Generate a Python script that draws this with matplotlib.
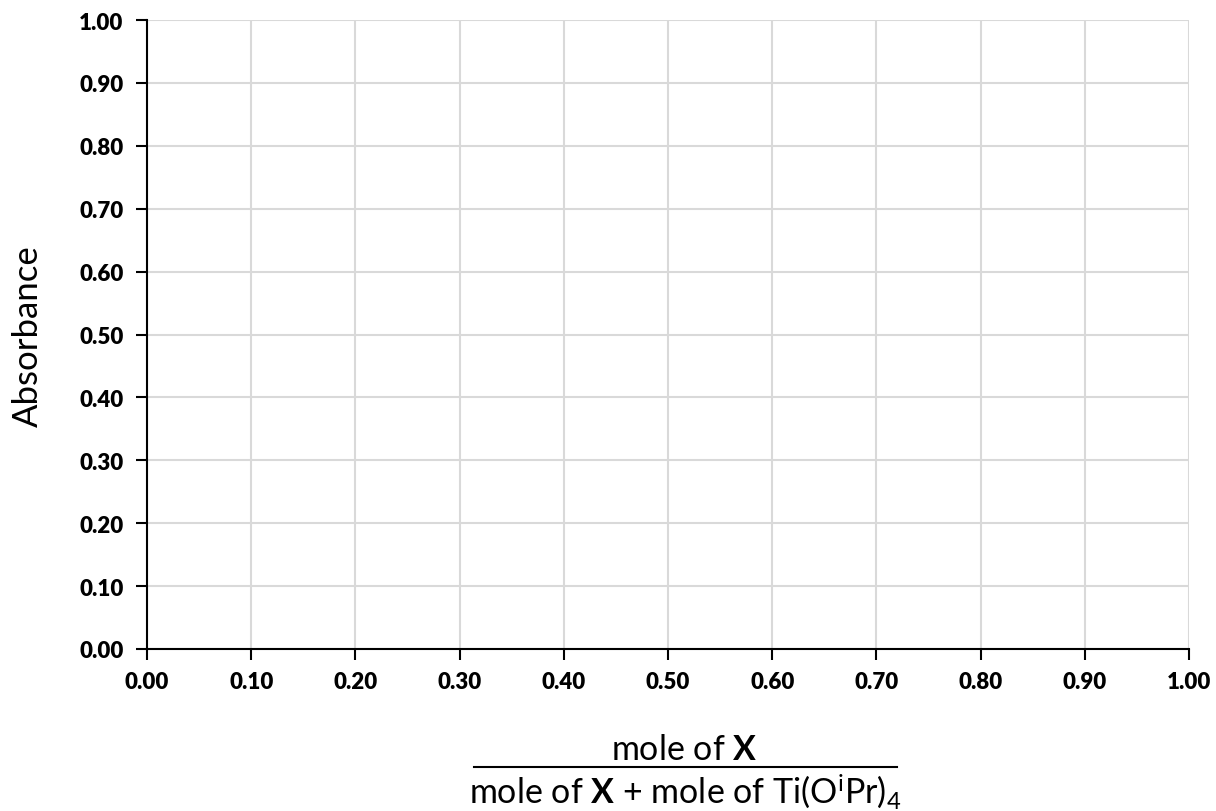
import matplotlib
matplotlib.use("Agg")
import matplotlib.pyplot as plt
from matplotlib.lines import Line2D

x_ticks = [0.0, 0.1, 0.2, 0.3, 0.4, 0.5, 0.6, 0.7, 0.8, 0.9, 1.0]
y_ticks = [0.0, 0.1, 0.2, 0.3, 0.4, 0.5, 0.6, 0.7, 0.8, 0.9, 1.0]
y_label = "Absorbance"
x_num = r"mole of $\mathbf{X}$"
x_den = r"mole of $\mathbf{X}$ + mole of Ti(O$^{\mathrm{i}}$Pr)$_{4}$"

plt.rcParams['font.family'] = ['Lato', 'DejaVu Sans']
plt.rcParams['mathtext.fontset'] = 'custom'
plt.rcParams['mathtext.rm'] = 'Lato'
plt.rcParams['mathtext.bf'] = 'Lato:bold'
plt.rcParams['mathtext.it'] = 'Lato:italic'

fig = plt.figure(figsize=(12.16, 8.12), dpi=100)
ax = fig.add_axes([147/1216, 1-650/812, (1189-147)/1216, (650-21)/812])
ax.set_xlim(0, 1)
ax.set_ylim(0, 1)
ax.set_xticks(x_ticks)
ax.set_yticks(y_ticks)
ax.set_xticklabels([f"{v:.2f}" for v in x_ticks], fontweight='heavy', fontsize=16)
ax.set_yticklabels([f"{v:.2f}" for v in y_ticks], fontweight='heavy', fontsize=16)
ax.grid(True, color='#d9d9d9', linewidth=1.5)
ax.set_axisbelow(True)
for s in ['top', 'right']:
    ax.spines[s].set_visible(False)
for s in ['left', 'bottom']:
    ax.spines[s].set_linewidth(1.5)
    ax.spines[s].set_color('black')
ax.tick_params(axis='y', direction='out', length=8, width=1.5, pad=9)
ax.tick_params(axis='x', direction='out', length=8, width=1.5, pad=8)

fig.text(28/1216, 1-336/812, y_label, rotation=90, ha='center', va='center', fontsize=25)
fig.text(684/1216, 1-760/812, x_num, ha='center', va='baseline', fontsize=24.5)
fig.text(685/1216, 1-804/812, x_den, ha='center', va='baseline', fontsize=24.5)
fig.add_artist(Line2D([474/1216, 897/1216], [1-768/812, 1-768/812], color='black', linewidth=1.5, transform=fig.transFigure))

fig.savefig("out.png", dpi=100)
